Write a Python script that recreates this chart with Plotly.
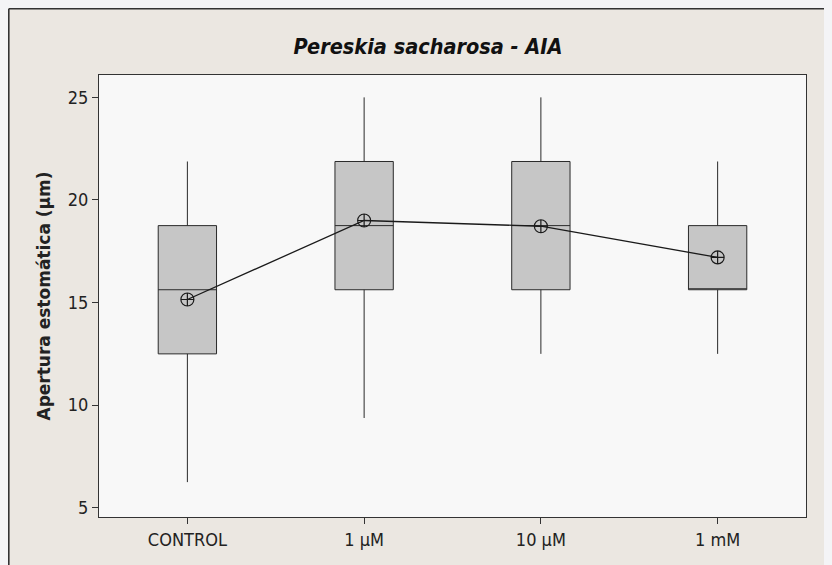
import plotly.graph_objects as go

categories = ["CONTROL", "1 µM", "10 µM", "1 mM"]
lower_whisker = [6.25, 9.375, 12.5, 12.5]
q1 = [12.5, 15.625, 15.625, 15.625]
median = [15.625, 18.75, 18.75, 15.625]
q3 = [18.75, 21.875, 21.875, 18.75]
upper_whisker = [21.875, 25.0, 25.0, 21.875]
means = [15.15, 19.0, 18.72, 17.2]
y_ticks = [5, 10, 15, 20, 25]

# figure sits in the page with the browser's default 8px body margin
W, H = 824, 557
L, R, T, B = 91, 26, 67, 48
pw, ph = W - L - R, H - T - B

fig = go.Figure()
fig.add_trace(go.Box(
    x=categories, q1=q1, median=median, q3=q3,
    lowerfence=lower_whisker, upperfence=upper_whisker,
    fillcolor="#c6c6c6", line=dict(color="#2a2a2a", width=1),
    whiskerwidth=0, width=0.33, boxpoints=False, showlegend=False,
    hoverinfo="skip",
))
fig.add_trace(go.Scatter(
    x=categories, y=means, mode="lines+markers",
    line=dict(color="#1a1a1a", width=1.3),
    marker=dict(symbol="circle-cross-open", size=13, color="#1a1a1a", line=dict(width=1.2)),
    showlegend=False,
))

def px_x(p):
    return (p - L) / pw

def px_y(p):
    return 1 - (p - T) / ph

shapes = [
    dict(type="line", xref="paper", yref="paper", x0=px_x(0.8), x1=px_x(0.8), y0=px_y(H), y1=px_y(0.8),
         line=dict(color="#333333", width=1.6), layer="above"),
    dict(type="line", xref="paper", yref="paper", x0=px_x(0.8), x1=px_x(W), y0=px_y(0.8), y1=px_y(0.8),
         line=dict(color="#333333", width=1.6), layer="above"),
]

fig.update_layout(
    width=W, height=H,
    margin=dict(l=L, r=R, t=T, b=B),
    paper_bgcolor="#ebe7e1",
    plot_bgcolor="#f8f8f8",
    font=dict(family="DejaVu Sans Condensed, DejaVu Sans", size=18, color="#222222"),
    title=dict(text="<b><i>Pereskia sacharosa - AIA</i></b>", x=420 / W,
               xanchor="center", y=1 - 38 / H, yanchor="middle",
               font=dict(size=21.5, color="#111111")),
    shapes=shapes,
    xaxis=dict(
        range=[-0.5, 3.5], showgrid=False, zeroline=False,
        showline=True, linecolor="#333333", linewidth=1, mirror=True,
        ticks="outside", ticklen=6, tickcolor="#333333",
        tickfont=dict(size=18),
    ),
    yaxis=dict(
        range=[4.55, 26.09], tickvals=y_ticks, showgrid=False, zeroline=False,
        showline=True, linecolor="#333333", linewidth=1, mirror=True,
        ticks="outside", ticklen=6, tickcolor="#333333",
        tickfont=dict(size=18),
        title=dict(text="<b>Apertura estomática (µm)</b>", font=dict(size=17, family="DejaVu Sans"), standoff=12),
    ),
)

fig.write_html("out.html", post_script="document.body.style.background='#f4f4f6';")
